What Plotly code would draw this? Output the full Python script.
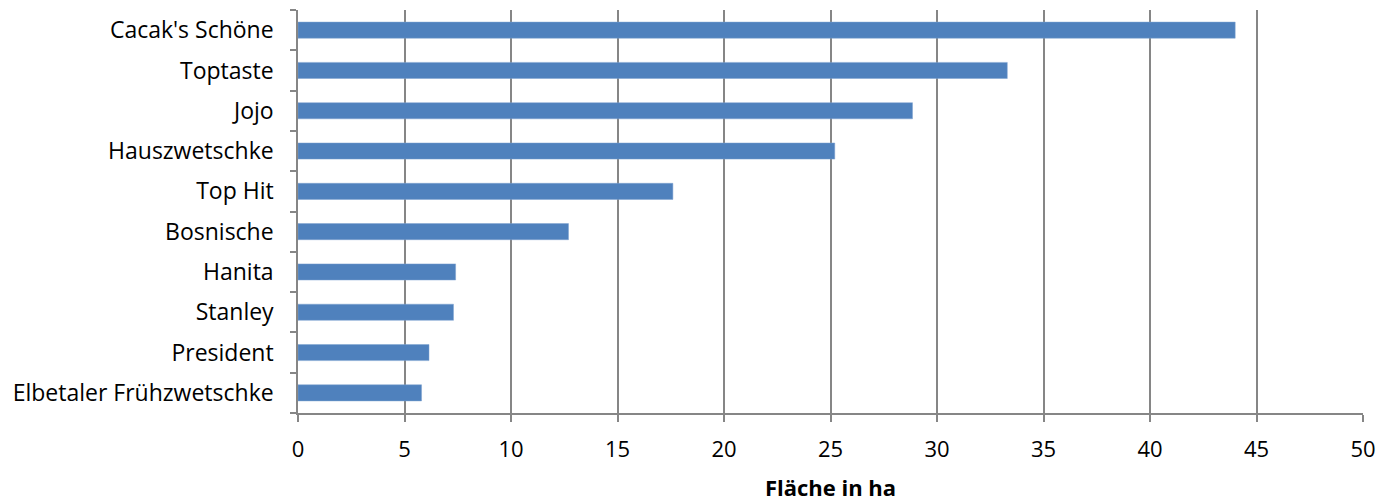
import plotly.graph_objects as go

categories = ["Cacak's Schöne", "Toptaste", "Jojo", "Hauszwetschke", "Top Hit",
              "Bosnische", "Hanita", "Stanley", "President", "Elbetaler Frühzwetschke"]
values = [44.0, 33.3, 28.85, 25.2, 17.6, 12.7, 7.4, 7.3, 6.15, 5.8]
x_ticks = [0, 5, 10, 15, 20, 25, 30, 35, 40, 45, 50]
x_title = "Fläche in ha"

font_family = "Open Sans"

fig = go.Figure(go.Bar(
    x=values, y=categories, orientation="h",
    marker=dict(color="#4F81BD", line=dict(color="#7FA2D0", width=0.5)),
    width=0.4,
))

fig.update_layout(
    width=1390, height=494,
    margin=dict(l=290, r=35, t=2, b=89),
    paper_bgcolor="white", plot_bgcolor="white",
    font=dict(family=font_family, size=22, color="black"),
    showlegend=False,
    xaxis=dict(
        range=[0, 50], tickvals=x_ticks,
        showgrid=True, gridcolor="#868686", gridwidth=1.5,
        showline=True, linecolor="#868686", linewidth=1.5,
        ticks="outside", ticklen=7, tickcolor="#868686", tickwidth=1.5,
        zeroline=False, ticklabelstandoff=9,
        title=dict(text="<b>" + x_title + "</b>", standoff=20, font=dict(size=22)),
    ),
    yaxis=dict(
        categoryorder="array", categoryarray=categories[::-1],
        range=[-0.5, 9.5],
        showgrid=False,
        showline=True, linecolor="#868686", linewidth=1.5,
        ticks="outside", ticklen=6, tickcolor="#868686", tickwidth=1.5,
        tickson="boundaries", ticklabelstandoff=18,
        tickfont=dict(size=23),
    ),
)

fig.write_html("out.html")
